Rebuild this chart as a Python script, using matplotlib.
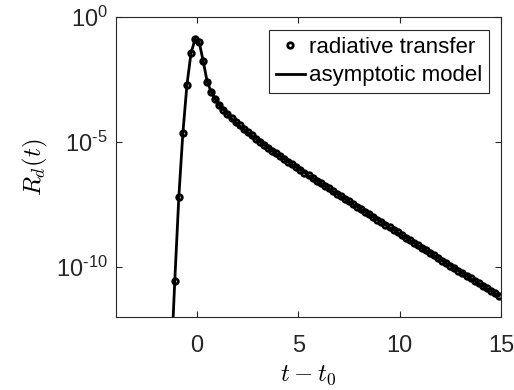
import numpy as np
import matplotlib
matplotlib.use("Agg")
import matplotlib.pyplot as plt
from matplotlib.ticker import FuncFormatter

# radiative transfer samples (t - t0, step 0.2) and log10 of R_d(t)
t_rt = np.arange(-1.1, 14.95, 0.2)
logR_rt = [
    -10.56, -7.20, -4.64, -2.72, -1.45, -0.89, -0.99, -1.75, -2.59, -3.00,
    -3.28, -3.52, -3.71, -3.89, -4.05, -4.20, -4.34, -4.48, -4.61, -4.74,
    -4.87, -4.99, -5.11, -5.23, -5.35, -5.46, -5.57, -5.68, -5.79, -5.90,
    -6.01, -6.12, -6.23, -6.34, -6.44, -6.55, -6.65, -6.76, -6.86, -6.97,
    -7.07, -7.18, -7.28, -7.38, -7.49, -7.59, -7.70, -7.80, -7.90, -8.01,
    -8.11, -8.21, -8.32, -8.42, -8.52, -8.62, -8.73, -8.83, -8.93, -9.03,
    -9.14, -9.24, -9.34, -9.44, -9.54, -9.65, -9.75, -9.85, -9.95, -10.05,
    -10.15, -10.25, -10.35, -10.46, -10.56, -10.66, -10.76, -10.86, -10.96,
    -11.06, -11.16,
]

# asymptotic model follows the samples, starting a bit earlier (below the axis)
model_lead_t = -1.3
model_lead_logR = -14.2

x_ticks = [0, 5, 10, 15]
y_exps = [0, -5, -10]

plt.rcParams['font.family'] = ['Liberation Sans', 'DejaVu Sans']
plt.rcParams['mathtext.fontset'] = 'cm'

fig = plt.figure(figsize=(5.14, 3.9), dpi=100)
ax = fig.add_axes([0.2257, 0.1872, 0.749, 0.7692])

R_rt = 10.0 ** np.array(logR_rt)
t_model = np.r_[model_lead_t, t_rt]
R_model = np.r_[10.0 ** model_lead_logR, R_rt]

ax.plot(t_rt, R_rt, 'o', mfc='none', mec='black', mew=2.0, ms=4,
        label='radiative transfer')
ax.plot(t_model, R_model, '-', color='black', lw=2.0, label='asymptotic model')

def pow10(v, pos):
    e = int(round(np.log10(v)))
    s = str(e).replace('-', '\u2010')
    return r'$\mathregular{10^{%s}}$' % s

ax.set_yscale('log')
ax.set_xlim(-4, 15)
ax.set_ylim(1e-12, 1)
ax.set_xticks(x_ticks)
ax.set_yticks([10.0 ** e for e in y_exps])
ax.yaxis.set_major_formatter(FuncFormatter(pow10))
ax.minorticks_off()
ax.tick_params(direction='in', length=4, width=0.8, colors='#262626',
               labelsize=17, top=True, right=True)
ax.tick_params(axis='x', pad=13)
ax.tick_params(axis='y', pad=6)
for s in ax.spines.values():
    s.set_color('#262626')
    s.set_linewidth(0.8)

ax.set_xlabel(r'$t - t_0$', fontsize=18, labelpad=4)
ax.set_ylabel(r'$R_d(t)$', fontsize=18, labelpad=4)

leg = ax.legend(loc='upper right', bbox_to_anchor=(0.969, 0.957), borderaxespad=0,
                fontsize=16, handlelength=1.3, handletextpad=0.2,
                borderpad=0.3, labelspacing=0.35, fancybox=False,
                framealpha=1, edgecolor='#262626')
leg.get_frame().set_linewidth(0.8)

fig.savefig('out.png', dpi=100)
